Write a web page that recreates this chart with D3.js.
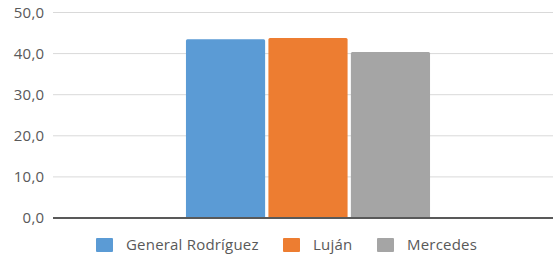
<!DOCTYPE html>
<html><head><meta charset="utf-8">
<script src="https://cdn.jsdelivr.net/npm/d3@7"></script>
<style>body{margin:0;background:#fff}</style>
</head><body>
<svg id="c" width="553" height="258"></svg>
<script>
const categories = ["2010"];
const seriesNames = ["General Rodríguez", "Luján", "Mercedes"];
const seriesValues = [43.5, 43.8, 40.4];
const colors = ["#5b9bd5", "#ed7d31", "#a5a5a5"];
const yTicks = [0, 10, 20, 30, 40, 50];

(function(){
const svg = d3.select("#c");
const mL = 53, mR = 553, mT = 12.5, mB = 218;
const y = d3.scaleLinear().domain([0, 50]).range([mB, mT]);
const x0 = d3.scaleBand().domain(categories).range([63, 553]).padding(0.335);
const x1 = d3.scaleBand().domain(seriesNames).range([0, x0.bandwidth()]).paddingInner(0.04);

const fmt = v => d3.format(".1f")(v).replace(".", ",");

svg.append("g").selectAll("line").data(yTicks.filter(d => d > 0)).join("line")
  .attr("x1", mL).attr("x2", mR)
  .attr("y1", d => y(d)).attr("y2", d => y(d))
  .attr("stroke", "#d9d9d9").attr("stroke-width", 1);

svg.append("g").selectAll("text").data(yTicks).join("text")
  .attr("x", 44.5).attr("y", d => y(d)).attr("dy", "0.36em")
  .attr("text-anchor", "end").attr("font-family", "Open Sans, sans-serif")
  .attr("font-size", 15).attr("letter-spacing", 0.3).attr("fill", "#595959").text(fmt);

const g = svg.append("g").selectAll("g").data(categories).join("g")
  .attr("transform", d => `translate(${x0(d)},0)`);
g.selectAll("rect").data(seriesNames.map((n, i) => ({n, v: seriesValues[i], c: colors[i]}))).join("rect")
  .attr("x", d => x1(d.n)).attr("width", x1.bandwidth())
  .attr("y", d => y(d.v)).attr("height", d => y(0) - y(d.v))
  .attr("rx", 1.5).attr("fill", d => d.c);

svg.append("line").attr("x1", mL).attr("x2", mR)
  .attr("y1", y(0)).attr("y2", y(0)).attr("stroke", "#595959").attr("stroke-width", 2);

const legX = [96, 283, 377];
const leg = svg.append("g").selectAll("g").data(seriesNames).join("g")
  .attr("transform", (d, i) => `translate(${legX[i]},238)`);
leg.append("rect").attr("width", 17).attr("height", 14).attr("rx", 1).attr("fill", (d, i) => colors[i]);
leg.append("text").attr("x", 30).attr("y", 7).attr("dy", "0.36em")
  .attr("font-family", "Open Sans, sans-serif").attr("font-size", 15).attr("letter-spacing", 0.2)
  .attr("fill", "#595959").text(d => d);
})();
</script>
</body></html>
